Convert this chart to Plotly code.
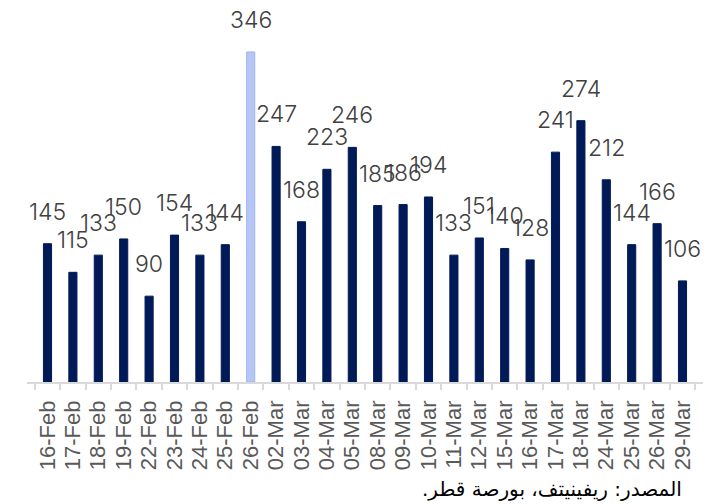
import plotly.graph_objects as go

categories = ["16-Feb", "17-Feb", "18-Feb", "19-Feb", "22-Feb", "23-Feb", "24-Feb", "25-Feb",
              "26-Feb", "02-Mar", "03-Mar", "04-Mar", "05-Mar", "08-Mar", "09-Mar", "10-Mar",
              "11-Mar", "12-Mar", "15-Mar", "16-Mar", "17-Mar", "18-Mar", "24-Mar", "25-Mar",
              "26-Mar", "29-Mar"]
values = [145, 115, 133, 150, 90, 154, 133, 144, 346, 247, 168, 223, 246, 185, 186, 194,
          133, 151, 140, 128, 241, 274, 212, 144, 166, 106]
highlight = "26-Feb"
source_text = "المصدر: ريفينيتف، بورصة قطر.\u200f"

DARK = "#001A57"
LIGHT = "#B6C7F7"
colors = [LIGHT if c == highlight else DARK for c in categories]
lines = ["#9FB4F0" if c == highlight else DARK for c in categories]

L, T = 27, 0
PLOT_R = 703
BASE = 382

fig = go.Figure()
fig.add_trace(go.Bar(
    x=categories, y=values,
    marker=dict(color=colors, line=dict(color=lines, width=1)),
    width=0.32,
    hoverinfo="x+y",
))

for c, v in zip(categories, values):
    fig.add_annotation(x=c, y=v, text=str(v), showarrow=False, yshift=32,
                       yanchor="middle", xanchor="center",
                       font=dict(family="Inter", size=23, color="#404040", weight=300))

fig.add_annotation(xref="paper", yref="paper", x=(684 - L) / (PLOT_R - L),
                   y=-(489 - BASE) / (BASE - T),
                   xanchor="right", yanchor="middle", showarrow=False,
                   text=source_text,
                   font=dict(family="DejaVu Sans", size=20, color="#000000"))

fig.update_layout(
    width=709, height=504,
    margin=dict(l=L, r=709 - PLOT_R, t=T, b=504 - BASE, autoexpand=False),
    paper_bgcolor="white", plot_bgcolor="white",
    showlegend=False,
    xaxis=dict(type="category", showline=True, linecolor="#D9D9D9", linewidth=1.5,
               tickmode="array", tickvals=categories, ticktext=categories,
               ticks="outside", tickson="boundaries", ticklen=6, tickcolor="#D9D9D9",
               tickwidth=1.5, tickangle=-90, showgrid=False, automargin=False,
               ticklabelstandoff=8,
               tickfont=dict(family="Liberation Sans", size=22, color="#595959")),
    yaxis=dict(range=[0, 400.5], visible=False, showgrid=False, zeroline=False,
               automargin=False),
)

fig.write_html("out.html", config={"displayModeBar": False},
               post_script="document.body.style.margin='0';document.body.style.overflow='hidden';")
